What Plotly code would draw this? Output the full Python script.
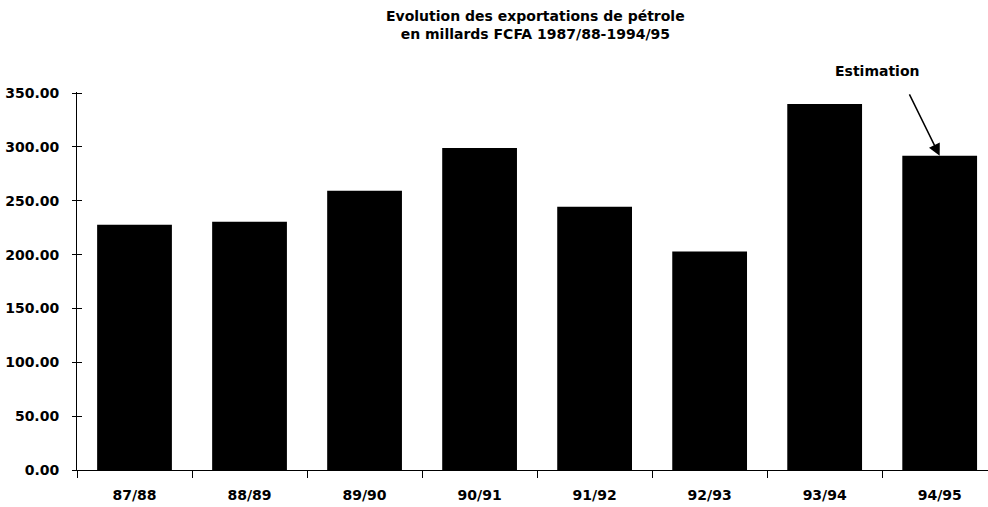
import plotly.graph_objects as go

# Oil export values, billions of FCFA, by fiscal year
years = ["87/88", "88/89", "89/90", "90/91", "91/92", "92/93", "93/94", "94/95"]
exports = [227.8, 230.6, 259.3, 299.0, 244.4, 202.8, 339.8, 291.7]
y_ticks = [0, 50, 100, 150, 200, 250, 300, 350]
y_tick_text = [f"{v:.2f}" for v in y_ticks]

FONT = "DejaVu Sans"
MARGIN_L, MARGIN_T, PLOT_W, PLOT_H = 77, 92, 911, 378


def px_to_paper(px, py):
    """Convert page pixel position to paper coordinates of the plot area."""
    return (px - MARGIN_L) / PLOT_W, 1 + (MARGIN_T - py) / PLOT_H


fig = go.Figure()
fig.add_trace(go.Bar(x=years, y=exports, marker=dict(color="black", line=dict(width=0)),
                     showlegend=False, hoverinfo="x+y"))

fig.update_layout(
    width=988, height=507,
    margin=dict(l=MARGIN_L, r=0, t=MARGIN_T, b=37),
    paper_bgcolor="white", plot_bgcolor="white",
    bargap=0.35,
    font=dict(family=FONT, size=14, color="black"),
    xaxis=dict(
        type="category", range=[-0.5, 7.42],
        showline=True, linecolor="black", linewidth=1,
        ticks="outside", ticklen=7, tickcolor="black", tickson="boundaries",
        showgrid=False, zeroline=False,
        tickfont=dict(family=FONT, size=14, color="black", weight="bold"),
        ticklabelstandoff=12,
    ),
    yaxis=dict(
        range=[0, 351], tickvals=y_ticks, ticktext=y_tick_text,
        showline=True, linecolor="black", linewidth=1,
        ticks="outside", ticklen=4, tickcolor="black",
        showgrid=False, zeroline=False,
        tickfont=dict(family=FONT, size=14, color="black", weight="bold"),
        ticklabelstandoff=10,
    ),
    yaxis2=dict(
        overlaying="y", side="left", range=[0, 351], tickvals=y_ticks,
        showticklabels=False, ticks="inside", ticklen=5, tickcolor="black",
        showgrid=False, zeroline=False, showline=False,
    ),
)

# invisible trace to activate the overlay axis carrying the inner tick marks
fig.add_trace(go.Scatter(x=[years[0]], y=[0], yaxis="y2", mode="markers",
                         marker=dict(opacity=0), showlegend=False, hoverinfo="skip"))

# Title (two lines)
tx, ty = px_to_paper(535, 25.5)
fig.add_annotation(
    x=tx, y=ty, xref="paper", yref="paper", xanchor="center", yanchor="middle",
    text="<b>Evolution des exportations de pétrole<br>en millards FCFA 1987/88-1994/95</b>",
    showarrow=False, font=dict(family=FONT, size=14, color="black"),
)

# Estimate marker for the last year
fig.add_annotation(
    x=years[-1], y=exports[-1], xref="x", yref="y",
    text="", showarrow=True, arrowhead=2, arrowsize=1.6, arrowwidth=1.5,
    arrowcolor="black", ax=-31, ay=-63, standoff=0,
)
ex, ey = px_to_paper(877, 71)
fig.add_annotation(
    x=ex, y=ey, xref="paper", yref="paper", xanchor="center", yanchor="middle",
    text="<b>Estimation</b>", showarrow=False,
    font=dict(family=FONT, size=14, color="black"),
)

fig.write_html("out.html")
